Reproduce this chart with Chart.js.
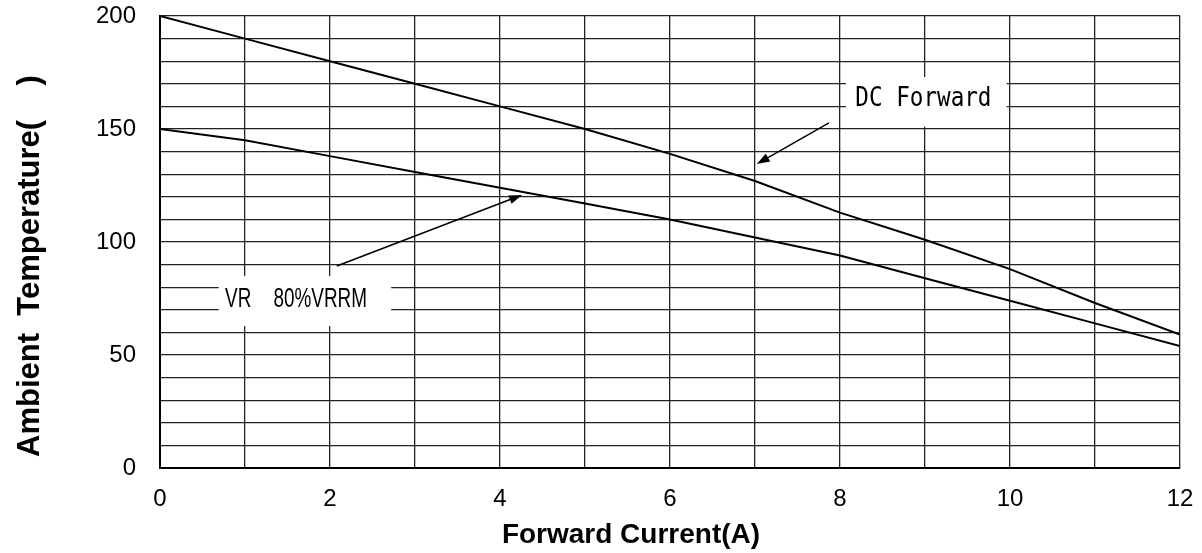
<!DOCTYPE html>
<html>
<head>
<meta charset="utf-8">
<script src="https://cdn.jsdelivr.net/npm/chart.js@4.4.1/dist/chart.umd.min.js"></script>
<style>
  html, body { margin: 0; padding: 0; background: #fff; }
  #wrap { width: 1202px; height: 553px; position: relative; }
</style>
</head>
<body>
<div id="wrap"><canvas id="grafico"></canvas></div>
<script>
// dados
const correntes = [0, 1, 2, 3, 4, 5, 6, 7, 8, 9, 10, 11, 12];
const dcForward = [200, 190, 180, 170, 160, 150, 139, 127, 113, 101, 88, 73, 59];
const vr80 = [150, 145, 138, 131, 124, 117, 110, 102, 94, 84, 74, 64, 54];
const ticksX = [0, 2, 4, 6, 8, 10, 12];
const ticksY = [0, 50, 100, 150, 200];

const pontos = (ys) => correntes.map((x, i) => ({ x: x, y: ys[i] }));

// caixas de texto e setas (em unidades do gráfico)
const notas = [
  { box: [8.07, 9.96, 173, 151], partes: [{ txt: 'DC Forward', x: 8.18 }], base: 160,
    fonte: '26px "DejaVu Sans Mono"', sx: 0.87, seta: [7.87, 152.7, 7.02, 134.5] },
  { box: [0.69, 2.72, 85, 62.8], partes: [{ txt: 'VR', x: 0.765 }, { txt: '80%VRRM', x: 1.335 }], base: 71.2,
    fonte: '27px "Liberation Sans", Arial', sx: 0.7, seta: [2.08, 89.4, 4.26, 120.8] }
];

const anotacoes = {
  id: 'anotacoes',
  afterDatasetsDraw(chart) {
    const ctx = chart.ctx;
    const sx = chart.scales.x, sy = chart.scales.y;
    ctx.save();
    notas.forEach(n => {
      const x0 = sx.getPixelForValue(n.box[0]), x1 = sx.getPixelForValue(n.box[1]);
      const y0 = sy.getPixelForValue(n.box[2]), y1 = sy.getPixelForValue(n.box[3]);
      ctx.fillStyle = '#fff';
      ctx.fillRect(x0, y0, x1 - x0, y1 - y0);
      ctx.fillStyle = '#000';
      ctx.font = n.fonte;
      ctx.textBaseline = 'alphabetic';
      ctx.textAlign = 'left';
      n.partes.forEach(p => {
        ctx.save();
        ctx.translate(sx.getPixelForValue(p.x), sy.getPixelForValue(n.base));
        ctx.scale(n.sx, 1);
        ctx.fillText(p.txt, 0, 0);
        ctx.restore();
      });
      // seta
      const ax = sx.getPixelForValue(n.seta[0]), ay = sy.getPixelForValue(n.seta[1]);
      const bx = sx.getPixelForValue(n.seta[2]), by = sy.getPixelForValue(n.seta[3]);
      const ang = Math.atan2(by - ay, bx - ax);
      ctx.strokeStyle = '#000';
      ctx.lineWidth = 1.5;
      ctx.beginPath();
      ctx.moveTo(ax, ay);
      ctx.lineTo(bx - 10 * Math.cos(ang), by - 10 * Math.sin(ang));
      ctx.stroke();
      ctx.beginPath();
      ctx.moveTo(bx, by);
      ctx.lineTo(bx - 13 * Math.cos(ang) + 4.5 * Math.sin(ang), by - 13 * Math.sin(ang) - 4.5 * Math.cos(ang));
      ctx.lineTo(bx - 13 * Math.cos(ang) - 4.5 * Math.sin(ang), by - 13 * Math.sin(ang) + 4.5 * Math.cos(ang));
      ctx.closePath();
      ctx.fill();
    });
    ctx.restore();
  },
  afterDraw(chart) {
    // títulos dos eixos
    const ctx = chart.ctx;
    ctx.save();
    ctx.fillStyle = '#000';
    ctx.font = 'bold 28px "Liberation Sans", Arial';
    ctx.textAlign = 'center';
    ctx.textBaseline = 'alphabetic';
    ctx.fillText('Forward Current(A)', 631, 543);
    ctx.font = 'bold 31px "Liberation Sans", Arial';
    ctx.translate(39, 266);
    ctx.rotate(-Math.PI / 2);
    ctx.fillText('Ambient  Temperature(    )', 0, 0);
    ctx.restore();
  }
};

new Chart(document.getElementById('grafico'), {
  type: 'line',
  data: {
    datasets: [
      { label: 'DC Forward', data: pontos(dcForward), borderColor: '#000', borderWidth: 2, pointRadius: 0, tension: 0, fill: false },
      { label: 'VR 80%VRRM', data: pontos(vr80), borderColor: '#000', borderWidth: 2, pointRadius: 0, tension: 0, fill: false }
    ]
  },
  options: {
    responsive: true,
    maintainAspectRatio: false,
    animation: false,
    layout: { padding: { top: 16, right: 22, left: 0, bottom: 0 } },
    plugins: { legend: { display: false }, tooltip: { enabled: false } },
    scales: {
      x: {
        type: 'linear', min: 0, max: 12,
        afterFit: (s) => { s.height = 85; s.paddingLeft = 0; s.paddingRight = 0; },
        ticks: {
          stepSize: 1, maxTicksLimit: 30, autoSkip: false, maxRotation: 0, padding: 17, color: '#000',
          font: { family: '"Liberation Sans", Arial', size: 24 },
          callback: (v) => ticksX.includes(v) ? v : ''
        },
        grid: { color: '#222', lineWidth: 1.3, drawTicks: false },
        border: { color: '#000', width: 2 }
      },
      y: {
        min: 0, max: 200,
        afterFit: (s) => { s.width = 160; s.paddingTop = 0; s.paddingBottom = 0; },
        ticks: {
          stepSize: 10, maxTicksLimit: 30, autoSkip: false, padding: 24, color: '#000',
          font: { family: '"Liberation Sans", Arial', size: 24 },
          callback: (v) => ticksY.includes(v) ? v : ''
        },
        grid: { color: '#222', lineWidth: 1.3, drawTicks: false },
        border: { color: '#000', width: 2 }
      }
    }
  },
  plugins: [anotacoes]
});
</script>
</body>
</html>
